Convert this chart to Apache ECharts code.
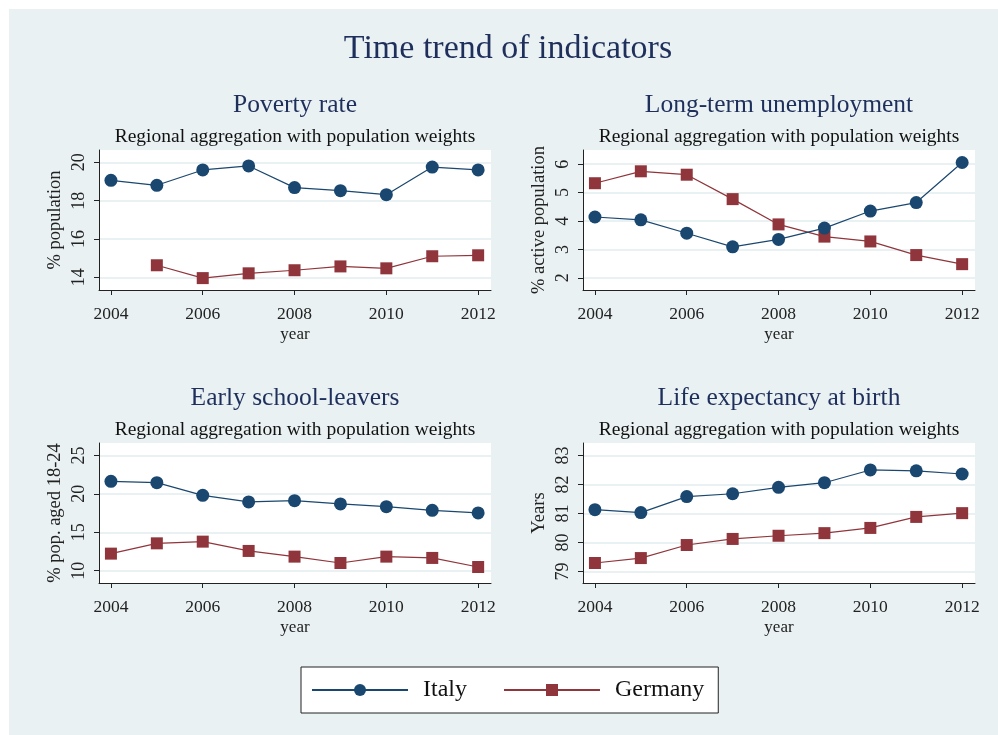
<!DOCTYPE html>
<html>
<head>
<meta charset="utf-8">
<title>Time trend of indicators</title>
<script src="https://cdn.jsdelivr.net/npm/echarts@6/dist/echarts.min.js"></script>
<style>
  html, body { margin: 0; padding: 0; background: #ffffff; }
  #chart { width: 998px; height: 735px; }
</style>
</head>
<body>
<div id="chart"></div>
<script>
// Survey years
const years = [2004, 2005, 2006, 2007, 2008, 2009, 2010, 2011, 2012];
const yearTicks = [2004, 2006, 2008, 2010, 2012];

// Poverty rate (% population)
const povertyItaly   = [19.06, 18.80, 19.60, 19.81, 18.68, 18.52, 18.31, 19.75, 19.60];
const povertyGermany = [null, 14.63, 13.96, 14.21, 14.37, 14.57, 14.47, 15.10, 15.15];
const povertyTicks = [14, 16, 18, 20];

// Long-term unemployment (% active population)
const unempItaly   = [4.14, 4.04, 3.57, 3.09, 3.35, 3.75, 4.35, 4.65, 6.06];
const unempGermany = [5.33, 5.75, 5.63, 4.77, 3.88, 3.45, 3.28, 2.80, 2.48];
const unempTicks = [2, 3, 4, 5, 6];

// Early school-leavers (% pop. aged 18-24)
const schoolItaly   = [21.62, 21.45, 19.80, 18.94, 19.11, 18.68, 18.33, 17.85, 17.51];
const schoolGermany = [12.22, 13.56, 13.78, 12.57, 11.83, 11.00, 11.83, 11.66, 10.48];
const schoolTicks = [10, 15, 20, 25];

// Life expectancy at birth (years)
const lifeItaly   = [81.13, 81.03, 81.58, 81.68, 81.90, 82.06, 82.50, 82.47, 82.36];
const lifeGermany = [79.29, 79.46, 79.91, 80.12, 80.23, 80.32, 80.50, 80.88, 81.01];
const lifeTicks = [79, 80, 81, 82, 83];

const panelTitles = ['Poverty rate', 'Long-term unemployment', 'Early school-leavers', 'Life expectancy at birth'];
const panelSubtitle = 'Regional aggregation with population weights';
const yNames = ['% population', '% active population', '% pop. aged 18-24', 'Years'];
const mainTitle = 'Time trend of indicators';

const FONT = '"Liberation Serif", "DejaVu Serif", serif';
const NAVY = '#1f2f5c';
const ITALY = '#1a476f';
const GERMANY = '#90353b';
const BG = '#e9f1f3';
const INK = '#222222';

const panels = [
  { it: povertyItaly, de: povertyGermany, ticks: povertyTicks, ymin: 13.34, ymax: 20.64 },
  { it: unempItaly,   de: unempGermany,   ticks: unempTicks,   ymin: 1.57,  ymax: 6.50 },
  { it: schoolItaly,  de: schoolGermany,  ticks: schoolTicks,  ymin: 8.40,  ymax: 26.61 },
  { it: lifeItaly,    de: lifeGermany,    ticks: lifeTicks,    ymin: 78.60, ymax: 83.43 }
];

// Grid layout: two columns, two rows
const gridLeft = [99, 583];
const gridTop = [150, 443];
const gridW = 392, gridH = 140;

function pairs(values) {
  const out = [];
  years.forEach((y, i) => { if (values[i] !== null) out.push([y, values[i]]); });
  return out;
}

const grids = [], xAxes = [], yAxes = [], series = [], titles = [];

titles.push({
  text: mainTitle, left: 508, top: 32, textAlign: 'center', padding: 0,
  textStyle: { fontFamily: FONT, fontSize: 34, fontWeight: 'normal', color: NAVY }
});

panels.forEach((p, k) => {
  const col = k % 2, row = Math.floor(k / 2);
  const left = gridLeft[col], top = gridTop[row];
  const cx = left + gridW / 2;
  grids.push({
    left: left, top: top, width: gridW, height: gridH,
    show: true, backgroundColor: '#ffffff', borderWidth: 0
  });
  titles.push({
    text: panelTitles[k], left: cx, top: top - 58, textAlign: 'center', padding: 0,
    textStyle: { fontFamily: FONT, fontSize: 25.5, fontWeight: 'normal', color: NAVY }
  });
  titles.push({
    text: panelSubtitle, left: cx, top: top - 23, textAlign: 'center', padding: 0,
    textStyle: { fontFamily: FONT, fontSize: 19.5, fontWeight: 'normal', color: '#111111' }
  });
  xAxes.push({
    type: 'value', gridIndex: k, min: 2003.74, max: 2012.28,
    name: 'year', nameLocation: 'middle', nameGap: 36,
    nameTextStyle: { fontFamily: FONT, fontSize: 17, color: INK },
    axisLine: { show: true, onZero: false, lineStyle: { color: INK, width: 1 } },
    axisTick: { show: true, length: 5, customValues: yearTicks, lineStyle: { color: INK } },
    axisLabel: { customValues: yearTicks, fontFamily: FONT, fontSize: 17.5, color: INK, margin: 15,
                 formatter: v => String(v) },
    splitLine: { show: false }
  });
  yAxes.push({
    type: 'value', gridIndex: k, min: p.ymin, max: p.ymax,
    name: yNames[k], nameLocation: 'middle', nameGap: 34,
    nameTextStyle: { fontFamily: FONT, fontSize: 18.5, color: INK },
    axisLine: { show: true, onZero: false, lineStyle: { color: INK, width: 1 } },
    axisTick: { show: true, length: 5, customValues: p.ticks, lineStyle: { color: INK } },
    axisLabel: { customValues: p.ticks, rotate: 90, fontFamily: FONT, fontSize: 18, color: INK, margin: 11,
                 formatter: v => String(v) },
    splitLine: { show: true, lineStyle: { color: BG, width: 2 } }
  });
  series.push({
    name: 'Italy', type: 'line', xAxisIndex: k, yAxisIndex: k, data: pairs(p.it),
    symbol: 'circle', symbolSize: 13, showSymbol: true,
    lineStyle: { color: ITALY, width: 1.2 }, itemStyle: { color: ITALY }, z: 3,
    emphasis: { disabled: true }
  });
  series.push({
    name: 'Germany', type: 'line', xAxisIndex: k, yAxisIndex: k, data: pairs(p.de),
    symbol: 'rect', symbolSize: 12, showSymbol: true,
    lineStyle: { color: GERMANY, width: 1.2 }, itemStyle: { color: GERMANY }, z: 2,
    emphasis: { disabled: true }
  });
});

const chart = echarts.init(document.getElementById('chart'), null, { renderer: 'canvas' });
chart.setOption({
  animation: false,
  backgroundColor: '#ffffff',
  graphic: [{
    type: 'rect', left: 9, top: 9, z: -10, silent: true,
    shape: { width: 989, height: 726 },
    style: { fill: BG }
  }],
  title: titles,
  grid: grids,
  xAxis: xAxes,
  yAxis: yAxes,
  series: series,
  legend: {
    data: ['Italy', 'Germany'],
    left: 301, top: 667,
    orient: 'horizontal',
    backgroundColor: '#ffffff', borderColor: INK, borderWidth: 1,
    padding: [11, 14, 11, 10],
    itemWidth: 96, itemHeight: 15, itemGap: 36,
    textStyle: { fontFamily: FONT, fontSize: 24, color: '#111111', padding: [0, 0, 0, 10] },
    selectedMode: false
  }
});
</script>
</body>
</html>
